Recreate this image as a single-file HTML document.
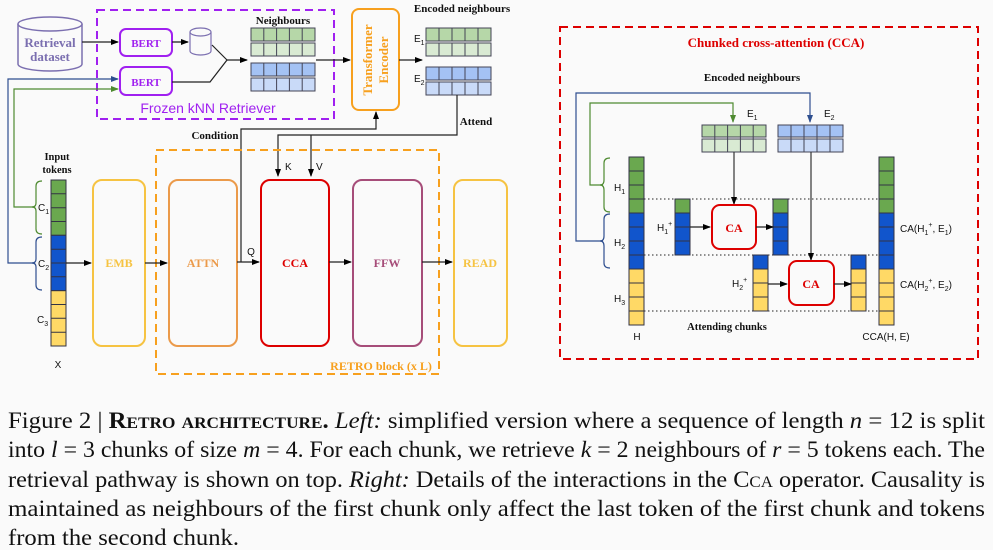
<!DOCTYPE html>
<html><head><meta charset="utf-8"><style>
html,body{margin:0;padding:0;background:#fafafa;}
svg{display:block;}
.s{font-family:"Liberation Serif",serif;font-weight:bold;}
.a{font-family:"Liberation Sans",sans-serif;}
</style></head><body>
<svg width="993" height="550" viewBox="0 0 993 550" xmlns="http://www.w3.org/2000/svg">
<defs>
<marker id="ar" markerWidth="8" markerHeight="8" refX="7" refY="4" orient="auto" markerUnits="userSpaceOnUse"><path d="M0,1 L8,4 L0,7 Z" fill="#000"/></marker>
<marker id="arb" markerWidth="8" markerHeight="8" refX="7" refY="4" orient="auto" markerUnits="userSpaceOnUse"><path d="M0,1 L8,4 L0,7 Z" fill="#2e4e8f"/></marker>
<marker id="arg" markerWidth="8" markerHeight="8" refX="7" refY="4" orient="auto" markerUnits="userSpaceOnUse"><path d="M0,1 L8,4 L0,7 Z" fill="#4e8a30"/></marker>
</defs>
<rect width="993" height="550" fill="#fafafa"/>

<path d="M18,24 L18,64 A32,7 0 0 0 82,64 L82,24" fill="#fafafa" stroke="#7b6fb0" stroke-width="1.5"/>
<ellipse cx="50" cy="24" rx="32" ry="7" fill="#fafafa" stroke="#7b6fb0" stroke-width="1.5"/>
<text x="50" y="47" class="s" font-size="13" fill="#7b6fb0" text-anchor="middle">Retrieval</text>
<text x="50" y="61" class="s" font-size="13" fill="#7b6fb0" text-anchor="middle">dataset</text>
<line x1="82" y1="42" x2="118" y2="42" stroke="#222" stroke-width="1.3" marker-end="url(#ar)"/>

<rect x="97" y="10" width="237" height="109" fill="none" stroke="#a020f0" stroke-width="2" stroke-dasharray="8,5"/>
<rect x="120" y="29" width="52" height="27" rx="6" fill="#fafafa" stroke="#a020f0" stroke-width="2"/>
<text x="146" y="47" class="s" font-size="11" fill="#a020f0" text-anchor="middle">BERT</text>
<rect x="120" y="67" width="52" height="28" rx="6" fill="#fafafa" stroke="#a020f0" stroke-width="2"/>
<text x="146" y="86" class="s" font-size="11" fill="#a020f0" text-anchor="middle">BERT</text>
<text x="208" y="113" class="a" font-size="14" fill="#a020f0" text-anchor="middle">Frozen kNN Retriever</text>
<line x1="172" y1="42" x2="188" y2="42" stroke="#222" stroke-width="1.3" marker-end="url(#ar)"/>
<path d="M190,32 L190,51 A10.5,4 0 0 0 211,51 L211,32" fill="#fafafa" stroke="#7b6fb0" stroke-width="1.2"/>
<ellipse cx="200.5" cy="32" rx="10.5" ry="4" fill="#fafafa" stroke="#7b6fb0" stroke-width="1.2"/>
<polyline points="212,45 227,60 210,82 172,82" fill="none" stroke="#222" stroke-width="1.2"/>
<line x1="227" y1="60" x2="247" y2="60" stroke="#222" stroke-width="1.2" marker-end="url(#ar)"/>

<text x="283" y="24" class="s" font-size="11" fill="#111" text-anchor="middle">Neighbours</text>
<g stroke="#445" stroke-width="1">
<rect x="251" y="28" width="64" height="13" fill="#b6d7a8"/>
<rect x="251" y="43" width="64" height="13" fill="#d9ead3"/>
<rect x="251" y="63" width="64" height="13" fill="#a4c2f4"/>
<rect x="251" y="78" width="64" height="13" fill="#c9daf8"/>
<path d="M263.8,28v13M276.6,28v13M289.4,28v13M302.2,28v13M263.8,43v13M276.6,43v13M289.4,43v13M302.2,43v13M263.8,63v13M276.6,63v13M289.4,63v13M302.2,63v13M263.8,78v13M276.6,78v13M289.4,78v13M302.2,78v13"/>
</g>
<line x1="316" y1="60" x2="350" y2="60" stroke="#222" stroke-width="1.3" marker-end="url(#ar)"/>

<rect x="352" y="9" width="47" height="101" rx="7" fill="#fafafa" stroke="#f7a01e" stroke-width="2"/>
<text transform="translate(372,60) rotate(-90)" class="s" font-size="13" fill="#f7a01e" text-anchor="middle">Transformer</text>
<text transform="translate(388,60) rotate(-90)" class="s" font-size="13" fill="#f7a01e" text-anchor="middle">Encoder</text>
<line x1="399" y1="60" x2="422" y2="60" stroke="#222" stroke-width="1.3" marker-end="url(#ar)"/>

<text x="462" y="12" class="s" font-size="11" fill="#111" text-anchor="middle">Encoded neighbours</text>
<text x="414" y="42" class="a" font-size="10" fill="#111">E<tspan font-size="7" dy="3">1</tspan></text>
<text x="414" y="82" class="a" font-size="10" fill="#111">E<tspan font-size="7" dy="3">2</tspan></text>
<g stroke="#445" stroke-width="1">
<rect x="426" y="28" width="65" height="13" fill="#b6d7a8"/>
<rect x="426" y="43" width="65" height="13" fill="#d9ead3"/>
<rect x="426" y="67" width="65" height="13" fill="#a4c2f4"/>
<rect x="426" y="82" width="65" height="13" fill="#c9daf8"/>
<path d="M439,28v13M452,28v13M465,28v13M478,28v13M439,43v13M452,43v13M465,43v13M478,43v13M439,67v13M452,67v13M465,67v13M478,67v13M439,82v13M452,82v13M465,82v13M478,82v13"/>
</g>
<polyline points="457,95 457,135 278,135 278,176" fill="none" stroke="#222" stroke-width="1.2" marker-end="url(#ar)"/>
<line x1="311" y1="135" x2="311" y2="176" stroke="#222" stroke-width="1.2" marker-end="url(#ar)"/>
<text x="476" y="125" class="s" font-size="11" fill="#111" text-anchor="middle">Attend</text>
<text x="285" y="170" class="a" font-size="10" fill="#111">K</text>
<text x="316" y="170" class="a" font-size="10" fill="#111">V</text>
<text x="215" y="139" class="s" font-size="11" fill="#111" text-anchor="middle">Condition</text>
<polyline points="241,262 241,129 376,129 376,112" fill="none" stroke="#222" stroke-width="1.2" marker-end="url(#ar)"/>

<polyline points="35,263 8,263 8,79 118,79" fill="none" stroke="#2e4e8f" stroke-width="1.2" marker-end="url(#arb)"/>
<polyline points="35,207 14,207 14,89 118,89" fill="none" stroke="#4e8a30" stroke-width="1.2" marker-end="url(#arg)"/>

<text x="57" y="160" class="s" font-size="10.5" fill="#111" text-anchor="middle">Input</text>
<text x="57" y="173" class="s" font-size="10.5" fill="#111" text-anchor="middle">tokens</text>
<g stroke="#334" stroke-width="1">
<rect x="51" y="180" width="15" height="55.3" fill="#6aa84f"/>
<rect x="51" y="235.3" width="15" height="55.4" fill="#1155cc"/>
<rect x="51" y="290.7" width="15" height="55.3" fill="#ffd966"/>
<path d="M51,193.8h15M51,207.7h15M51,221.5h15M51,249.2h15M51,263h15M51,276.8h15M51,304.5h15M51,318.3h15M51,332.2h15"/>
</g>
<path d="M42,181 Q36,181 36,186 L36,203 Q36,207 32,207 Q36,207 36,211 L36,229 Q36,234 42,234" fill="none" stroke="#4e8a30" stroke-width="1.2"/>
<path d="M42,237 Q36,237 36,242 L36,259 Q36,263 32,263 Q36,263 36,267 L36,285 Q36,290 42,290" fill="none" stroke="#2e4e8f" stroke-width="1.2"/>
<text x="38" y="211" class="a" font-size="10" fill="#111">C<tspan font-size="7" dy="3">1</tspan></text>
<text x="38" y="267" class="a" font-size="10" fill="#111">C<tspan font-size="7" dy="3">2</tspan></text>
<text x="37" y="323" class="a" font-size="10" fill="#111">C<tspan font-size="7" dy="3">3</tspan></text>
<text x="58" y="368" class="a" font-size="10" fill="#111" text-anchor="middle">X</text>

<rect x="156" y="150" width="283" height="224" fill="none" stroke="#f7a01e" stroke-width="2" stroke-dasharray="8,5"/>
<text x="381" y="370" class="s" font-size="12" fill="#f7a01e" text-anchor="middle">RETRO block (x L)</text>
<rect x="93" y="180" width="52" height="166" rx="9" fill="#fafafa" stroke="#f6c342" stroke-width="2"/>
<text x="119" y="267" class="s" font-size="12" fill="#f6c342" text-anchor="middle">EMB</text>
<rect x="169" y="180" width="68" height="166" rx="9" fill="#fafafa" stroke="#eb9a4a" stroke-width="2"/>
<text x="203" y="267" class="s" font-size="12" fill="#eb9a4a" text-anchor="middle">ATTN</text>
<rect x="261" y="180" width="68" height="166" rx="9" fill="#fafafa" stroke="#d00" stroke-width="2"/>
<text x="295" y="267" class="s" font-size="12" fill="#d00" text-anchor="middle">CCA</text>
<rect x="353" y="180" width="69" height="166" rx="9" fill="#fafafa" stroke="#a64d79" stroke-width="2"/>
<text x="387" y="267" class="s" font-size="12" fill="#a64d79" text-anchor="middle">FFW</text>
<rect x="454" y="180" width="53" height="166" rx="9" fill="#fafafa" stroke="#f6c342" stroke-width="2"/>
<text x="480" y="267" class="s" font-size="12" fill="#f6c342" text-anchor="middle">READ</text>
<g stroke="#222" stroke-width="1.3">
<line x1="66" y1="263" x2="91" y2="263" marker-end="url(#ar)"/>
<line x1="145" y1="263" x2="167" y2="263" marker-end="url(#ar)"/>
<line x1="237" y1="262" x2="259" y2="262" marker-end="url(#ar)"/>
<line x1="329" y1="262" x2="351" y2="262" marker-end="url(#ar)"/>
<line x1="422" y1="262" x2="452" y2="262" marker-end="url(#ar)"/>
</g>
<text x="251" y="255" class="a" font-size="10" fill="#111" text-anchor="middle">Q</text>

<rect x="560" y="27" width="418" height="332" fill="none" stroke="#d00" stroke-width="2" stroke-dasharray="8,5"/>
<text x="776" y="47" class="s" font-size="13" fill="#d00" text-anchor="middle">Chunked cross-attention (CCA)</text>
<text x="752" y="81" class="s" font-size="11" fill="#111" text-anchor="middle">Encoded neighbours</text>
<polyline points="603,241 576,241 576,93 810,93 810,122" fill="none" stroke="#2e4e8f" stroke-width="1.2" marker-end="url(#arb)"/>
<polyline points="603,185 590,185 590,103 733,103 733,122" fill="none" stroke="#4e8a30" stroke-width="1.2" marker-end="url(#arg)"/>
<text x="747" y="117" class="a" font-size="10" fill="#111">E<tspan font-size="7" dy="3">1</tspan></text>
<text x="824" y="117" class="a" font-size="10" fill="#111">E<tspan font-size="7" dy="3">2</tspan></text>
<g stroke="#445" stroke-width="1">
<rect x="702" y="125" width="64" height="12" fill="#b6d7a8"/>
<rect x="702" y="139" width="64" height="13" fill="#d9ead3"/>
<rect x="778" y="125" width="65" height="12" fill="#a4c2f4"/>
<rect x="778" y="139" width="65" height="13" fill="#c9daf8"/>
<path d="M714.8,125v27M727.6,125v27M740.4,125v27M753.2,125v27M791,125v27M804,125v27M817,125v27M830,125v27"/>
</g>
<line x1="734" y1="152" x2="734" y2="204" stroke="#333" stroke-width="1.2" marker-end="url(#ar)"/>
<line x1="811" y1="152" x2="811" y2="260" stroke="#333" stroke-width="1.2" marker-end="url(#ar)"/>

<g stroke="#222" stroke-width="1" stroke-dasharray="1.5,2.5">
<line x1="644" y1="199" x2="879" y2="199"/>
<line x1="644" y1="255" x2="879" y2="255"/>
<line x1="644" y1="311" x2="879" y2="311"/>
</g>
<path d="M610,158 Q604,158 604,163 L604,180 Q604,185 600,185 Q604,185 604,190 L604,207 Q604,212 610,212" fill="none" stroke="#4e8a30" stroke-width="1.2"/>
<path d="M610,214 Q604,214 604,219 L604,236 Q604,241 600,241 Q604,241 604,246 L604,263 Q604,268 610,268" fill="none" stroke="#2e4e8f" stroke-width="1.2"/>
<text x="614" y="191" class="a" font-size="10" fill="#111">H<tspan font-size="7" dy="3">1</tspan></text>
<text x="614" y="246" class="a" font-size="10" fill="#111">H<tspan font-size="7" dy="3">2</tspan></text>
<text x="614" y="302" class="a" font-size="10" fill="#111">H<tspan font-size="7" dy="3">3</tspan></text>

<g stroke="#334" stroke-width="1">
<rect x="629" y="157" width="15" height="56" fill="#6aa84f"/>
<rect x="629" y="213" width="15" height="56" fill="#1155cc"/>
<rect x="629" y="269" width="15" height="56" fill="#ffd966"/>
<path d="M629,171h15M629,185h15M629,199h15M629,227h15M629,241h15M629,255h15M629,283h15M629,297h15M629,311h15"/>
<rect x="879" y="157" width="15" height="56" fill="#6aa84f"/>
<rect x="879" y="213" width="15" height="56" fill="#1155cc"/>
<rect x="879" y="269" width="15" height="56" fill="#ffd966"/>
<path d="M879,171h15M879,185h15M879,199h15M879,227h15M879,241h15M879,255h15M879,283h15M879,297h15M879,311h15"/>
<rect x="675" y="199" width="15" height="14" fill="#6aa84f"/>
<rect x="675" y="213" width="15" height="42" fill="#1155cc"/>
<path d="M675,227h15M675,241h15"/>
<rect x="773" y="199" width="15" height="14" fill="#6aa84f"/>
<rect x="773" y="213" width="15" height="42" fill="#1155cc"/>
<path d="M773,227h15M773,241h15"/>
<rect x="753" y="255" width="15" height="14" fill="#1155cc"/>
<rect x="753" y="269" width="15" height="42" fill="#ffd966"/>
<path d="M753,283h15M753,297h15"/>
<rect x="851" y="255" width="15" height="14" fill="#1155cc"/>
<rect x="851" y="269" width="15" height="42" fill="#ffd966"/>
<path d="M851,283h15M851,297h15"/>
</g>
<text x="657" y="231" class="a" font-size="10" fill="#111">H<tspan font-size="7" dy="3">1</tspan><tspan font-size="7" dy="-8">+</tspan></text>
<text x="732" y="287" class="a" font-size="10" fill="#111">H<tspan font-size="7" dy="3">2</tspan><tspan font-size="7" dy="-8">+</tspan></text>

<rect x="712" y="205" width="44" height="44" rx="8" fill="#fafafa" stroke="#d00" stroke-width="2"/>
<text x="734" y="232" class="s" font-size="12" fill="#d00" text-anchor="middle">CA</text>
<rect x="789" y="261" width="45" height="44" rx="8" fill="#fafafa" stroke="#d00" stroke-width="2"/>
<text x="811" y="288" class="s" font-size="12" fill="#d00" text-anchor="middle">CA</text>
<g stroke="#222" stroke-width="1.2">
<line x1="690" y1="227" x2="710" y2="227" marker-end="url(#ar)"/>
<line x1="756" y1="227" x2="773" y2="227" marker-end="url(#ar)"/>
<line x1="768" y1="284" x2="787" y2="284" marker-end="url(#ar)"/>
<line x1="834" y1="284" x2="851" y2="284" marker-end="url(#ar)"/>
</g>
<text x="900" y="232" class="a" font-size="10" fill="#111">CA(H<tspan font-size="7" dy="3">1</tspan><tspan font-size="7" dy="-8">+</tspan><tspan dy="5">, E</tspan><tspan font-size="7" dy="3">1</tspan><tspan dy="-3">)</tspan></text>
<text x="900" y="288" class="a" font-size="10" fill="#111">CA(H<tspan font-size="7" dy="3">2</tspan><tspan font-size="7" dy="-8">+</tspan><tspan dy="5">, E</tspan><tspan font-size="7" dy="3">2</tspan><tspan dy="-3">)</tspan></text>
<text x="727" y="330" class="s" font-size="10.5" fill="#111" text-anchor="middle">Attending chunks</text>
<text x="637" y="340" class="a" font-size="10" fill="#111" text-anchor="middle">H</text>
<text x="886" y="340" class="a" font-size="10" fill="#111" text-anchor="middle">CCA(H, E)</text>

<g font-family="Liberation Serif, serif" font-size="23" fill="#111">
<text x="8" y="428" textLength="977" lengthAdjust="spacingAndGlyphs">Figure 2 | <tspan font-weight="bold" font-variant="small-caps">Retro architecture.</tspan> <tspan font-style="italic">Left:</tspan> simplified version where a sequence of length <tspan font-style="italic">n</tspan> = 12 is split</text>
<text x="8" y="457" textLength="977" lengthAdjust="spacingAndGlyphs">into <tspan font-style="italic">l</tspan> = 3 chunks of size <tspan font-style="italic">m</tspan> = 4. For each chunk, we retrieve <tspan font-style="italic">k</tspan> = 2 neighbours of <tspan font-style="italic">r</tspan> = 5 tokens each. The</text>
<text x="8" y="487" textLength="977" lengthAdjust="spacingAndGlyphs">retrieval pathway is shown on top. <tspan font-style="italic">Right:</tspan> Details of the interactions in the <tspan font-variant="small-caps">Cca</tspan> operator. Causality is</text>
<text x="8" y="516" textLength="977" lengthAdjust="spacingAndGlyphs">maintained as neighbours of the first chunk only affect the last token of the first chunk and tokens</text>
<text x="8" y="545" textLength="231" lengthAdjust="spacingAndGlyphs">from the second chunk.</text>
</g>
</svg>
</body></html>
